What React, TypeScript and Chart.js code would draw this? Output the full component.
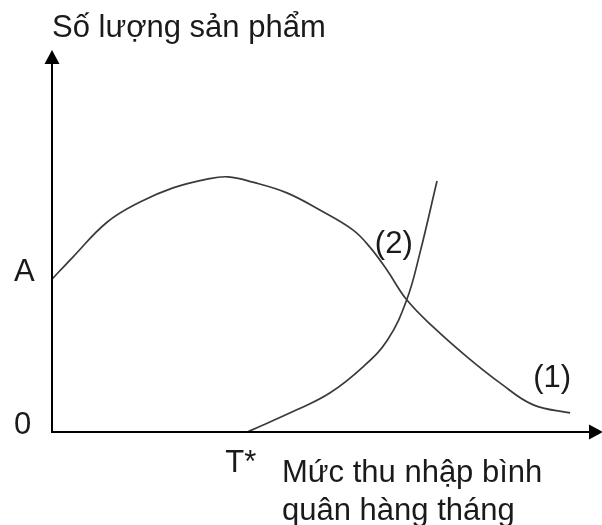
import { useEffect, useRef } from "react";
import { Chart, registerables } from "chart.js";

Chart.register(...registerables);

// Curve (1): quantity rises with income, peaks, then falls away
const curve1X = [0, 3.8, 10.0, 16.0, 22.0, 28.2, 32.0, 36.5, 42.7, 48.7, 54.7, 57.8, 60.9, 64.5, 69.3, 75.5, 81.5, 87.5, 94.2];
const curve1Y = [40, 45.8, 54.9, 60.2, 63.9, 66.2, 66.8, 65.4, 62.6, 58.1, 52.9, 48.4, 42.4, 34.6, 27.5, 19.6, 12.8, 7.1, 5.0];

// Curve (2): starts at income level T* and climbs steeply
const curve2X = [35.5, 44.5, 50.5, 56.5, 61.0, 64.5, 66.9, 70.0];
const curve2Y = [0, 5.8, 10.2, 17.0, 24.1, 34.6, 46.9, 65.7];

const yTickValues = [0, 40];
const yTickLabels = ["0", "A"];
const xTickValues = [35.5];
const xTickLabels = ["T*"];

const yAxisTitle = "Số lượng sản phẩm";
const xAxisTitle = ["Mức thu nhập bình", "quân hàng tháng"];
const curveNames = ["(1)", "(2)"];

const FONT = '31px "Liberation Sans", Arial, sans-serif';
const TEXT_COLOR = "#1a1a1a";
const LINE_COLOR = "#3a3a3a";

const toPoints = (xs: number[], ys: number[]) => xs.map((x, i) => ({ x, y: ys[i] }));

const axesAndLabels = {
  id: "axesAndLabels",
  afterDraw(chart: any) {
    const { ctx, chartArea, scales } = chart;
    const xs = scales.x;
    const ys = scales.y;
    const x0 = xs.getPixelForValue(0);
    const y0 = ys.getPixelForValue(0);

    ctx.save();
    // axes with arrowheads
    ctx.strokeStyle = "#000";
    ctx.fillStyle = "#000";
    ctx.lineWidth = 2;
    ctx.beginPath();
    ctx.moveTo(x0, y0 + 1);
    ctx.lineTo(x0, chartArea.top + 12);
    ctx.moveTo(x0 - 1, y0);
    ctx.lineTo(chartArea.right - 12, y0);
    ctx.stroke();

    ctx.beginPath();
    ctx.moveTo(x0, chartArea.top);
    ctx.lineTo(x0 - 7.5, chartArea.top + 14);
    ctx.lineTo(x0 + 7.5, chartArea.top + 14);
    ctx.closePath();
    ctx.fill();

    ctx.beginPath();
    ctx.moveTo(chartArea.right + 1, y0);
    ctx.lineTo(chartArea.right - 13, y0 - 7.5);
    ctx.lineTo(chartArea.right - 13, y0 + 7.5);
    ctx.closePath();
    ctx.fill();

    // text
    ctx.fillStyle = TEXT_COLOR;
    ctx.font = FONT;
    ctx.textBaseline = "alphabetic";
    ctx.textAlign = "left";

    ctx.fillText(yAxisTitle, x0, 37);

    yTickValues.forEach((v, i) => {
      ctx.fillText(yTickLabels[i], x0 - 38, ys.getPixelForValue(v) + 2);
    });
    xTickValues.forEach((v, i) => {
      ctx.fillText(xTickLabels[i], xs.getPixelForValue(v) - 22, y0 + 40);
    });

    ctx.fillText(xAxisTitle[0], 282, 482);
    ctx.fillText(xAxisTitle[1], 282, 520);

    ctx.fillText(curveNames[0], xs.getPixelForValue(87.5), ys.getPixelForValue(11.8));
    ctx.fillText(curveNames[1], xs.getPixelForValue(58.7), ys.getPixelForValue(46.9));
    ctx.restore();
  },
};

export default function App() {
  const canvasRef = useRef<HTMLCanvasElement | null>(null);

  useEffect(() => {
    const canvas = canvasRef.current;
    if (!canvas) return;
    const lineStyle = {
      showLine: true,
      borderColor: LINE_COLOR,
      borderWidth: 1.7,
      pointRadius: 0,
      pointHoverRadius: 0,
      fill: false,
      tension: 0.4,
    };
    const chart = new Chart(canvas, {
      type: "scatter",
      data: {
        datasets: [
          { label: curveNames[0], data: toPoints(curve1X, curve1Y), ...lineStyle },
          { label: curveNames[1], data: toPoints(curve2X, curve2Y), ...lineStyle },
        ],
      },
      options: {
        responsive: false,
        animation: false,
        events: [],
        layout: { padding: { left: 52, right: 0, top: 50, bottom: 93 } },
        plugins: { legend: { display: false }, tooltip: { enabled: false } },
        scales: {
          x: { type: "linear", min: 0, max: 100, display: false },
          y: { type: "linear", min: 0, max: 100, display: false },
        },
      },
      plugins: [axesAndLabels],
    });
    return () => chart.destroy();
  }, []);

  return (
    <div style={{ position: "absolute", left: 0, top: 0, width: 602, height: 525, background: "#fff" }}>
      <canvas ref={canvasRef} width={602} height={525} style={{ display: "block" }} />
    </div>
  );
}
